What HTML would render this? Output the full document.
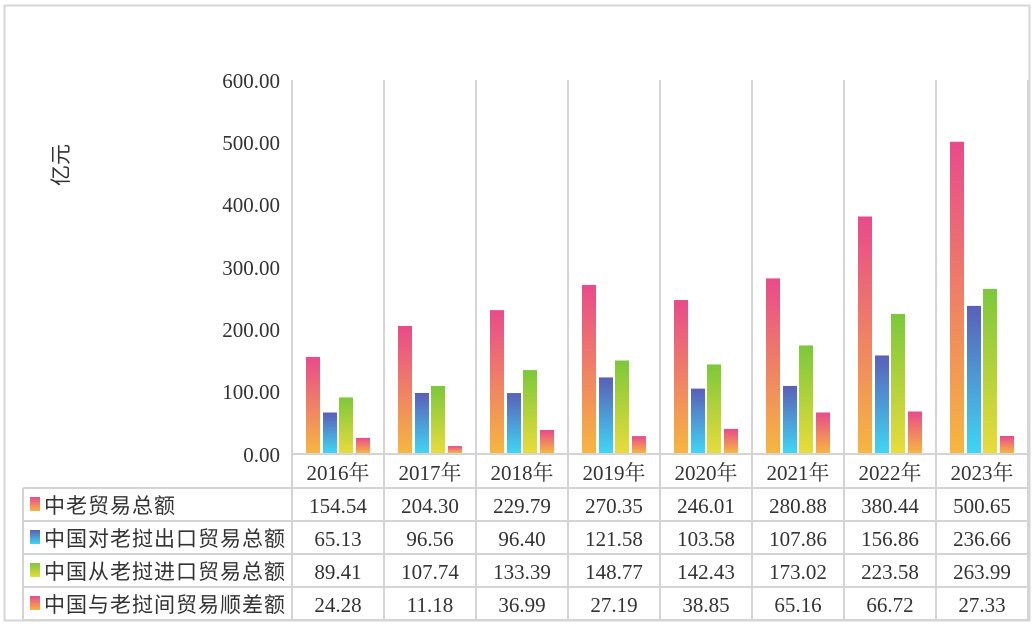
<!DOCTYPE html>
<html><head><meta charset="utf-8"><style>
body{margin:0;background:#fff}
text{font-family:"Liberation Serif","Noto Serif CJK SC",serif;fill:#333}
.c{font-family:"Liberation Sans","Noto Sans CJK SC",sans-serif}
</style></head><body>
<svg width="1032" height="624" xmlns="http://www.w3.org/2000/svg">
<defs>
<linearGradient id="g1" x1="0" y1="0" x2="0" y2="1"><stop offset="0" stop-color="#e94a8c"/><stop offset="1" stop-color="#f6b640"/></linearGradient>
<linearGradient id="g2" x1="0" y1="0" x2="0" y2="1"><stop offset="0" stop-color="#5a5fb8"/><stop offset="1" stop-color="#3fd6f4"/></linearGradient>
<linearGradient id="g3" x1="0" y1="0" x2="0" y2="1"><stop offset="0" stop-color="#7cc83a"/><stop offset="1" stop-color="#e8dc3a"/></linearGradient>
</defs>
<rect x="4.5" y="5.5" width="1025" height="615" fill="none" stroke="#d6d6d6" stroke-width="2"/>
<g fill="#333" font-size="21" text-anchor="end">
<text x="280" y="88">600.00</text><text x="280" y="150">500.00</text><text x="280" y="212">400.00</text>
<text x="280" y="275">300.00</text><text x="280" y="337">200.00</text><text x="280" y="399">100.00</text><text x="280" y="462">0.00</text>
</g>
<text class="c" x="0" y="0" font-size="21" transform="translate(68,165) rotate(-90)" text-anchor="middle">亿元</text>
<g id="bars"></g>
<g stroke="#d4d4d4" stroke-width="2" fill="none" id="grid">
<line x1="292" y1="80" x2="292" y2="620"/>
<line x1="23" y1="488" x2="1028" y2="488"/>
<line x1="23" y1="521" x2="1028" y2="521"/>
<line x1="23" y1="554" x2="1028" y2="554"/>
<line x1="23" y1="587" x2="1028" y2="587"/>
<line x1="23" y1="620" x2="1028" y2="620"/>
<line x1="23" y1="488" x2="23" y2="620"/>
<line x1="292" y1="454" x2="1028" y2="454"/>
</g>
<g id="tbl"></g>
<g class="c" font-size="21" letter-spacing="1">
<rect x="30" y="497" width="10" height="14" fill="url(#g1)"/><text class="c" x="44" y="513">中老贸易总额</text>
<rect x="30" y="530" width="10" height="14" fill="url(#g2)"/><text class="c" x="44" y="546">中国对老挝出口贸易总额</text>
<rect x="30" y="563" width="10" height="14" fill="url(#g3)"/><text class="c" x="44" y="579">中国从老挝进口贸易总额</text>
<rect x="30" y="596" width="10" height="14" fill="url(#g1)"/><text class="c" x="44" y="612">中国与老挝间贸易顺差额</text>
</g>
</svg>
<script>
const d=[[154.54,65.13,89.41,24.28],[204.30,96.56,107.74,11.18],[229.79,96.40,133.39,36.99],[270.35,121.58,148.77,27.19],[246.01,103.58,142.43,38.85],[280.88,107.86,173.02,65.16],[380.44,156.86,223.58,66.72],[500.65,236.66,263.99,27.33]];
const ns="http://www.w3.org/2000/svg";
const b=document.getElementById('bars'),g=document.getElementById('grid'),t=document.getElementById('tbl');
const off=[14,31,47,64],fills=['url(#g1)','url(#g2)','url(#g3)','url(#g1)'];
function el(p,n,a,txt){const e=document.createElementNS(ns,n);for(const k in a)e.setAttribute(k,a[k]);if(txt!==undefined)e.textContent=txt;p.appendChild(e);return e;}
d.forEach((r,i)=>{const x0=292+92*i;
 el(g,'line',{x1:x0+92,y1:80,x2:x0+92,y2:620});
 r.forEach((v,j)=>{const h=v*373/600;el(b,'rect',{x:x0+off[j],y:453-h,width:14,height:h,fill:fills[j]});
  el(t,'text',{x:x0+46,y:513+33*j,'font-size':21,'text-anchor':'middle'},v.toFixed(2));});
 el(t,'text',{x:x0+46,y:480,'font-size':21,'text-anchor':'middle'},(2016+i)+'年');
});
</script>
</body></html>
